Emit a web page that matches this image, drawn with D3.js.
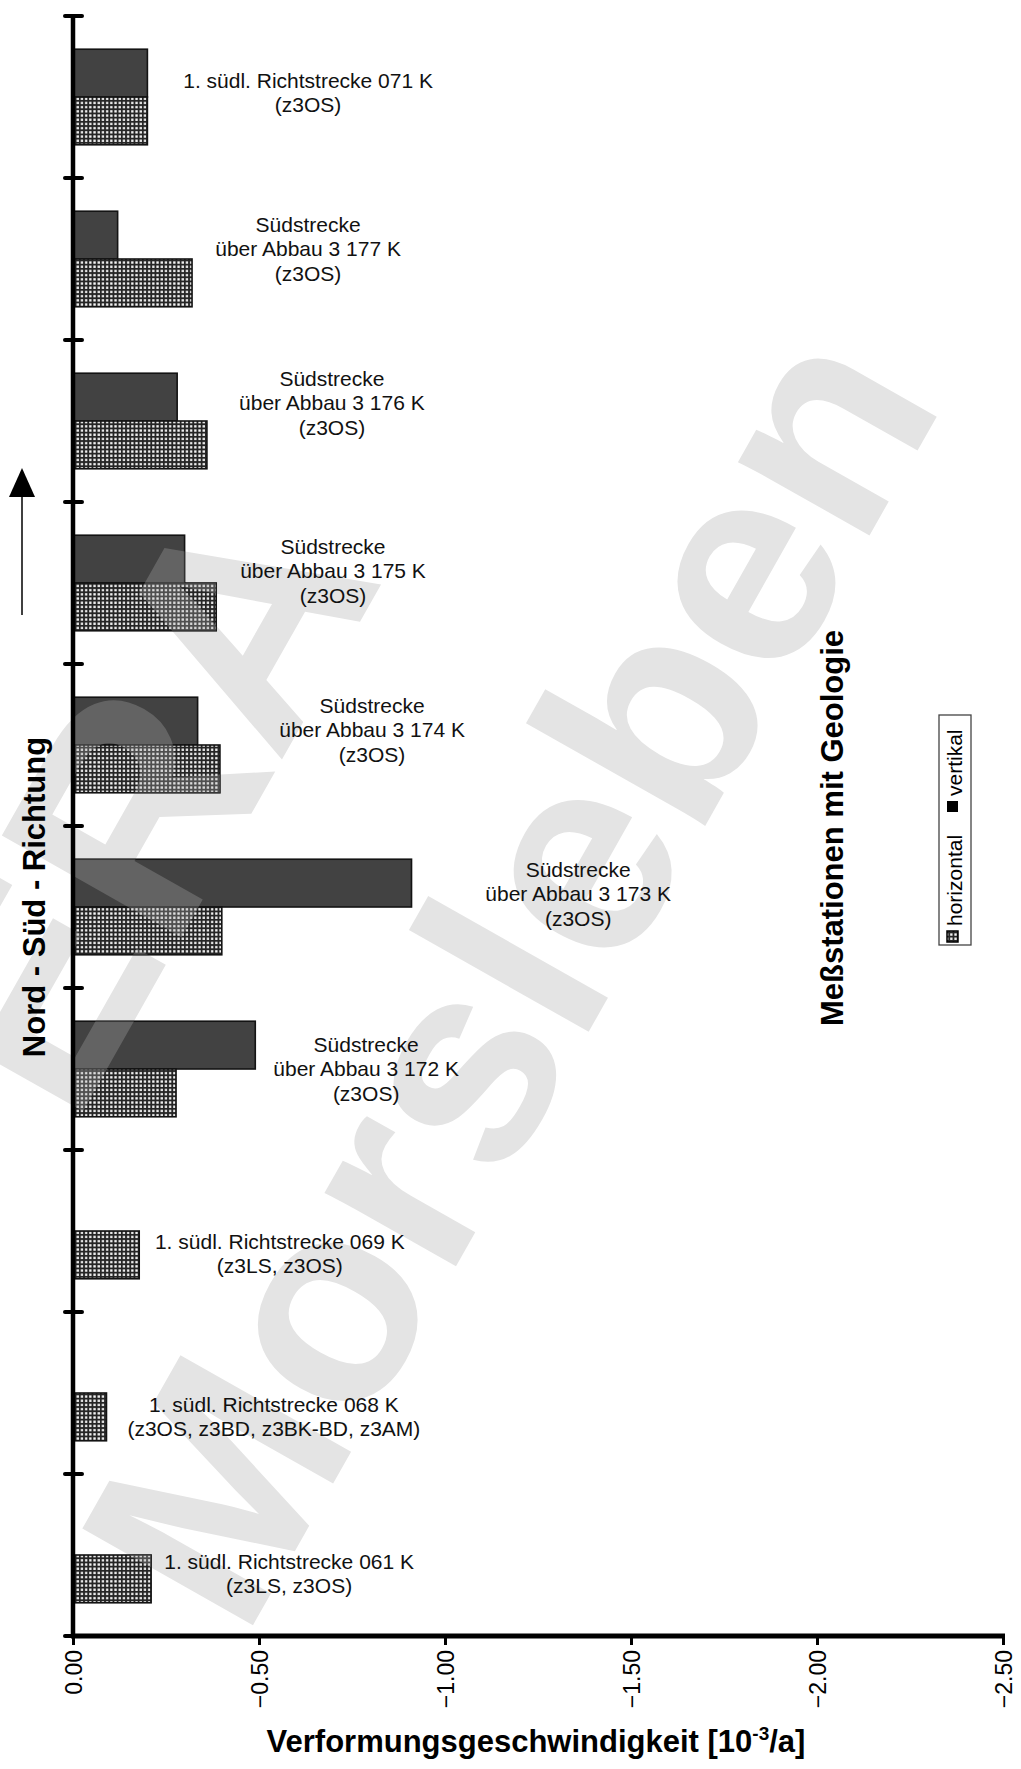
<!DOCTYPE html>
<html>
<head>
<meta charset="utf-8">
<script src="https://cdn.jsdelivr.net/npm/d3@7"></script>
<style>
  html, body { margin: 0; padding: 0; background: #fff; }
  svg { display: block; font-family: "Liberation Sans", Arial, Helvetica, sans-serif; }
</style>
</head>
<body>
<svg id="chart" width="1021" height="1769"></svg>
<script>
// Measuring stations, ordered north (top) to south (bottom)
const stations = ["071 K", "177 K", "176 K", "175 K", "174 K", "173 K", "172 K", "069 K", "068 K", "061 K"];
const stationLabels = [
  ["1. südl. Richtstrecke 071 K", "(z3OS)"],
  ["Südstrecke", "über Abbau 3 177 K", "(z3OS)"],
  ["Südstrecke", "über Abbau 3 176 K", "(z3OS)"],
  ["Südstrecke", "über Abbau 3 175 K", "(z3OS)"],
  ["Südstrecke", "über Abbau 3 174 K", "(z3OS)"],
  ["Südstrecke", "über Abbau 3 173 K", "(z3OS)"],
  ["Südstrecke", "über Abbau 3 172 K", "(z3OS)"],
  ["1. südl. Richtstrecke 069 K", "(z3LS, z3OS)"],
  ["1. südl. Richtstrecke  068 K", "(z3OS, z3BD, z3BK-BD, z3AM)"],
  ["1. südl. Richtstrecke  061 K", "(z3LS, z3OS)"]
];
// Deformation rates [10^-3/a]
const vertikal   = [-0.20, -0.12, -0.28, -0.30, -0.335, -0.91, -0.49, null, null, null];
const horizontal = [-0.20, -0.32, -0.36, -0.385, -0.395, -0.40, -0.277, -0.178, -0.09, -0.21];
const seriesNames = ["vertikal", "horizontal"];
const xTickValues = [0, -0.5, -1, -1.5, -2, -2.5];

// Station label placement: centre on the rate axis, vertical nudge in px
const labelCentre = [-0.632, -0.632, -0.696, -0.699, -0.804, -1.358, -0.788, -0.556, -0.540, -0.581];
const labelNudge  = [3, -3, -11, -5, -8, -6, 7, 6, 7, 2];

const svg = d3.select("#chart");
const defs = svg.append("defs");

// fine grid hatch used for the horizontal component
const pat = defs.append("pattern")
  .attr("id", "grid").attr("patternUnits", "userSpaceOnUse")
  .attr("width", 4.2).attr("height", 4.2);
pat.append("rect").attr("width", 4.2).attr("height", 4.2).attr("fill", "#262626");
pat.append("rect").attr("x", 1).attr("y", 1).attr("width", 2.3).attr("height", 2.3).attr("fill", "#f6f6f6");

// scales
const x = d3.scaleLinear().domain([0, -2.5]).range([73, 1003]);
const y = d3.scaleBand().domain(stations).range([16, 1636]).paddingInner(0.41).paddingOuter(0.205);
const ySub = d3.scaleBand().domain(seriesNames).range([0, y.bandwidth()]);
const yEdge = d3.scaleLinear().domain([0, stations.length]).range(y.range());

const rows = stations.map((s, i) => ({
  station: s, i, label: stationLabels[i],
  vertikal: vertikal[i], horizontal: horizontal[i]
}));
const bars = [];
rows.forEach(r => seriesNames.forEach(k => {
  if (r[k] !== null) bars.push({ station: r.station, key: k, value: r[k] });
}));

// watermark lettering
function watermark(g, fill) {
  const ang = -60.5;
  g.append("text")
    .attr("transform", `translate(530,985) rotate(${ang})`)
    .attr("text-anchor", "middle").attr("dy", "0.26em")
    .attr("font-size", 285).attr("font-weight", "bold").attr("fill", fill)
    .text("Morsleben");
  g.append("text")
    .attr("transform", `translate(135,800) rotate(${ang})`)
    .attr("text-anchor", "middle").attr("dy", "0.36em")
    .attr("font-size", 300).attr("font-weight", "bold").attr("fill", fill)
    .text("ERA");
}
watermark(svg.append("g"), "#e4e4e4");

// bars
const barRect = sel => sel
  .attr("x", x(0))
  .attr("y", d => y(d.station) + ySub(d.key))
  .attr("width", d => x(d.value) - x(0))
  .attr("height", ySub.bandwidth());

svg.append("g").selectAll("rect").data(bars).join("rect")
  .call(barRect)
  .attr("fill", d => d.key === "vertikal" ? "#424242" : "url(#grid)")
  .attr("stroke", "#141414")
  .attr("stroke-width", 1.6);

// watermark showing through the bars
const clip = defs.append("clipPath").attr("id", "barClip");
clip.selectAll("rect").data(bars).join("rect").call(barRect);
watermark(svg.append("g").attr("clip-path", "url(#barClip)").attr("opacity", 0.3), "#b0b0b0");

// station labels
const labels = svg.append("g")
  .attr("font-size", 21).attr("fill", "#111").attr("text-anchor", "middle")
  .style("white-space", "pre");
rows.forEach(r => {
  const anchorY = r.vertikal === null
    ? y(r.station) + ySub("horizontal") + ySub.bandwidth() / 2
    : y(r.station) + y.bandwidth() / 2;
  const n = r.label.length;
  const t = labels.append("text");
  r.label.forEach((line, j) => {
    t.append("tspan")
      .attr("x", x(labelCentre[r.i]))
      .attr("y", anchorY + labelNudge[r.i] + (j - (n - 1) / 2) * 24.5)
      .text(line);
  });
});

// value axis
const xAxis = svg.append("g")
  .attr("transform", `translate(0,${y.range()[1]})`)
  .call(d3.axisBottom(x).tickValues(xTickValues).tickFormat(d3.format(".2f")).tickSize(9).tickSizeOuter(0));
xAxis.select(".domain").attr("stroke", "#000").attr("stroke-width", 5).attr("d", `M${x(0) - 2},0H${x(-2.5) + 2}`);
xAxis.selectAll(".tick line").attr("stroke", "#000").attr("stroke-width", 3);
xAxis.selectAll(".tick text")
  .attr("transform", "rotate(-90)")
  .attr("text-anchor", "end")
  .attr("x", -14).attr("y", 8).attr("dy", 0)
  .attr("font-size", 23).attr("fill", "#000")
  .attr("font-family", "'Liberation Sans', Arial, sans-serif");

// station axis with band dividers
svg.append("line")
  .attr("x1", x(0)).attr("x2", x(0))
  .attr("y1", yEdge(0)).attr("y2", yEdge(stations.length))
  .attr("stroke", "#000").attr("stroke-width", 4.5);
svg.append("g").selectAll("line").data(d3.range(stations.length + 1)).join("line")
  .attr("x1", x(0) - 8).attr("x2", x(0) + 9)
  .attr("y1", d => yEdge(d)).attr("y2", d => yEdge(d))
  .attr("stroke", "#000").attr("stroke-width", 4).attr("stroke-linecap", "round");

// titles
svg.append("text")
  .attr("transform", "translate(45,897) rotate(-90)")
  .attr("text-anchor", "middle").attr("font-size", 31).attr("font-weight", "bold")
  .text("Nord - Süd - Richtung");
svg.append("path")
  .attr("d", "M22,468L9,497L35,497Z").attr("fill", "#000");
svg.append("line")
  .attr("x1", 22).attr("x2", 22).attr("y1", 497).attr("y2", 615)
  .attr("stroke", "#000").attr("stroke-width", 1.5);

svg.append("text")
  .attr("transform", "translate(843,828) rotate(-90)")
  .attr("text-anchor", "middle").attr("font-size", 31).attr("font-weight", "bold")
  .text("Meßstationen mit Geologie");

const xt = svg.append("text")
  .attr("x", 536).attr("y", 1752)
  .attr("text-anchor", "middle").attr("font-size", 31).attr("font-weight", "bold");
xt.append("tspan").text("Verformungsgeschwindigkeit [10");
xt.append("tspan").attr("font-size", 19).attr("dy", -12).text("-3");
xt.append("tspan").attr("dy", 12).text("/a]");

// legend (rotated)
const lg = svg.append("g");
lg.append("rect").attr("x", 939).attr("y", 715).attr("width", 32).attr("height", 230)
  .attr("fill", "#fff").attr("stroke", "#444").attr("stroke-width", 1.3);
lg.append("rect").attr("x", 947).attr("y", 931).attr("width", 11).attr("height", 11)
  .attr("fill", "url(#grid)").attr("stroke", "#000").attr("stroke-width", 1.5);
lg.append("text").attr("transform", "translate(962,926) rotate(-90)")
  .attr("font-size", 21).text("horizontal");
lg.append("rect").attr("x", 947).attr("y", 801).attr("width", 11).attr("height", 11)
  .attr("fill", "#000");
lg.append("text").attr("transform", "translate(962,796) rotate(-90)")
  .attr("font-size", 21).text("vertikal");
</script>
</body>
</html>
